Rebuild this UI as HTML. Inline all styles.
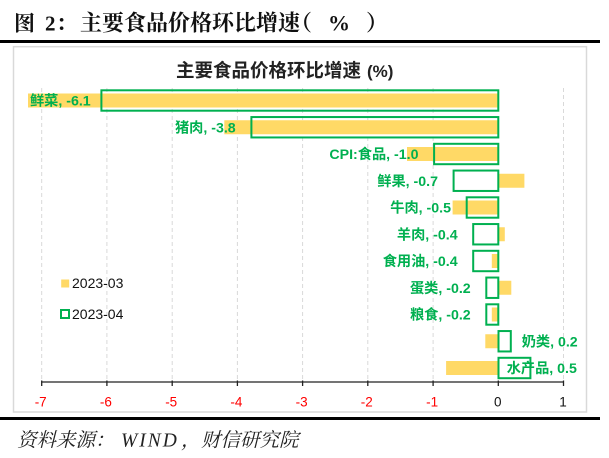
<!DOCTYPE html>
<html>
<head>
<meta charset="utf-8">
<style>
  html,body{margin:0;padding:0;background:#fff;}
  body{width:609px;height:458px;overflow:hidden;}
  svg{display:block;}
  .t{font-family:"Liberation Serif","Noto Serif CJK SC",serif;font-weight:bold;fill:#111;}
  .ct{font-family:"Liberation Sans","Noto Sans CJK SC",sans-serif;font-weight:bold;fill:#222;}
  .lb{font-family:"Liberation Sans","Noto Sans CJK SC",sans-serif;font-weight:bold;font-size:14.2px;fill:#00B050;}
  .tk{font-family:"Liberation Sans",sans-serif;font-size:13.5px;}
  .lg{font-family:"Liberation Sans",sans-serif;font-size:14px;fill:#111;}
  .ft{font-family:"Liberation Serif","Noto Serif CJK SC",serif;font-style:italic;font-size:19.5px;fill:#222;}
</style>
</head>
<body>
<svg width="609" height="458" viewBox="0 0 609 458" xmlns="http://www.w3.org/2000/svg">
  <!-- Title -->
  <text class="t" x="14" y="30.5" font-size="21">图</text>
  <text class="t" x="45" y="30.5" font-size="21">2</text>
  <text class="t" x="56" y="30.5" font-size="21">：</text>
  <text class="t" x="80" y="30.5" font-size="22">主要食品价格环比增速</text>
  <text class="t" x="290" y="30.5" font-size="22">（</text>
  <text class="t" x="328" y="30.5" font-size="22">%</text>
  <text class="t" x="366" y="30.5" font-size="22">）</text>

  <!-- top / bottom thick lines -->
  <rect x="0" y="40" width="600" height="3" fill="#000"/>
  <rect x="0" y="417" width="600" height="3" fill="#000"/>

  <!-- chart border -->
  <rect x="13.5" y="46.7" width="573" height="365.3" fill="#fff" stroke="#d9d9d9" stroke-width="1.5"/>

  <!-- chart title -->
  <text class="ct" x="176" y="77" font-size="18.5">主要食品价格环比增速</text>
  <text class="ct" x="367" y="77" font-size="17">(%)</text>

  <!-- gridlines -->
  <g stroke="#d9d9d9" stroke-width="1" stroke-dasharray="4,3">
    <line x1="41.7" y1="88" x2="41.7" y2="382"/>
    <line x1="106.9" y1="88" x2="106.9" y2="382"/>
    <line x1="172.2" y1="88" x2="172.2" y2="382"/>
    <line x1="237.4" y1="88" x2="237.4" y2="382"/>
    <line x1="302.6" y1="88" x2="302.6" y2="382"/>
    <line x1="367.8" y1="88" x2="367.8" y2="382"/>
    <line x1="433.1" y1="88" x2="433.1" y2="382"/>
    <line x1="563.5" y1="88" x2="563.5" y2="382"/>
  </g>

  <!-- March bars (yellow) -->
  <g fill="#FFD966">
    <rect x="28" y="93.5" width="470.3" height="14"/>
    <rect x="224.3" y="120.25" width="274" height="14"/>
    <rect x="407" y="147" width="91.3" height="14"/>
    <rect x="498.3" y="173.75" width="26.1" height="14"/>
    <rect x="452.6" y="200.5" width="45.7" height="14"/>
    <rect x="498.3" y="227.25" width="6.5" height="14"/>
    <rect x="491.8" y="254" width="6.5" height="14"/>
    <rect x="498.3" y="280.75" width="13" height="14"/>
    <rect x="491.8" y="307.5" width="6.5" height="14"/>
    <rect x="485.3" y="334.25" width="13" height="14"/>
    <rect x="446.1" y="361" width="52.2" height="14"/>
  </g>

  <!-- April boxes (green hollow) -->
  <g fill="none" stroke="#00B050" stroke-width="2">
    <rect x="101.4" y="90.3" width="396.9" height="20.4"/>
    <rect x="251.4" y="117.05" width="246.9" height="20.4"/>
    <rect x="434.1" y="143.8" width="64.2" height="20.4"/>
    <rect x="453.6" y="170.55" width="44.7" height="20.4"/>
    <rect x="466.7" y="197.3" width="31.6" height="20.4"/>
    <rect x="473.2" y="224.05" width="25.1" height="20.4"/>
    <rect x="473.2" y="250.8" width="25.1" height="20.4"/>
    <rect x="486.3" y="277.55" width="12" height="20.4"/>
    <rect x="486.3" y="304.3" width="12" height="20.4"/>
    <rect x="498.5" y="331.05" width="12.3" height="20.4"/>
    <rect x="498.5" y="357.8" width="31.9" height="20.4"/>
  </g>

  <!-- data labels -->
  <text class="lb" x="90.7" y="105.5" text-anchor="end">鲜菜, -6.1</text>
  <text class="lb" x="235.7" y="132.25" text-anchor="end">猪肉, -3.8</text>
  <text class="lb" x="418.5" y="159" text-anchor="end">CPI:食品, -1.0</text>
  <text class="lb" x="438" y="185.75" text-anchor="end">鲜果, -0.7</text>
  <text class="lb" x="451" y="212.5" text-anchor="end">牛肉, -0.5</text>
  <text class="lb" x="457.6" y="239.25" text-anchor="end">羊肉, -0.4</text>
  <text class="lb" x="457.6" y="266" text-anchor="end">食用油, -0.4</text>
  <text class="lb" x="470.7" y="292.75" text-anchor="end">蛋类, -0.2</text>
  <text class="lb" x="470.7" y="319.5" text-anchor="end">粮食, -0.2</text>
  <text class="lb" x="521.7" y="346.25">奶类, 0.2</text>
  <text class="lb" x="506.7" y="373">水产品, 0.5</text>

  <!-- axis -->
  <line x1="41.7" y1="382" x2="563.5" y2="382" stroke="#222" stroke-width="1.3"/>
  <g stroke="#222" stroke-width="1.3">
    <line x1="41.7" y1="380.5" x2="41.7" y2="386"/>
    <line x1="106.9" y1="380.5" x2="106.9" y2="386"/>
    <line x1="172.2" y1="380.5" x2="172.2" y2="386"/>
    <line x1="237.4" y1="380.5" x2="237.4" y2="386"/>
    <line x1="302.6" y1="380.5" x2="302.6" y2="386"/>
    <line x1="367.8" y1="380.5" x2="367.8" y2="386"/>
    <line x1="433.1" y1="380.5" x2="433.1" y2="386"/>
    <line x1="498.3" y1="380.5" x2="498.3" y2="386"/>
    <line x1="563.5" y1="380.5" x2="563.5" y2="386"/>
  </g>
  <g class="tk" text-anchor="middle">
    <text x="40.7" y="406.5" fill="#FF0000">-7</text>
    <text x="105.9" y="406.5" fill="#FF0000">-6</text>
    <text x="171.2" y="406.5" fill="#FF0000">-5</text>
    <text x="236.4" y="406.5" fill="#FF0000">-4</text>
    <text x="301.6" y="406.5" fill="#FF0000">-3</text>
    <text x="366.8" y="406.5" fill="#FF0000">-2</text>
    <text x="432.1" y="406.5" fill="#FF0000">-1</text>
    <text x="497.8" y="406.5" fill="#111">0</text>
    <text x="563" y="406.5" fill="#111">1</text>
  </g>

  <!-- legend -->
  <rect x="61.2" y="279.5" width="8" height="8" fill="#FFD966"/>
  <text class="lg" x="72" y="288">2023-03</text>
  <rect x="61" y="310" width="8" height="8" fill="none" stroke="#00B050" stroke-width="2"/>
  <text class="lg" x="72" y="318.8">2023-04</text>

  <!-- footer -->
  <text class="ft" x="17" y="446.5">资料来源：</text>
  <text class="ft" x="121" y="446.5" letter-spacing="2">WIND</text>
  <text class="ft" x="181" y="446.5">，</text>
  <text class="ft" x="201" y="446.5">财信研究院</text>
</svg>
</body>
</html>
